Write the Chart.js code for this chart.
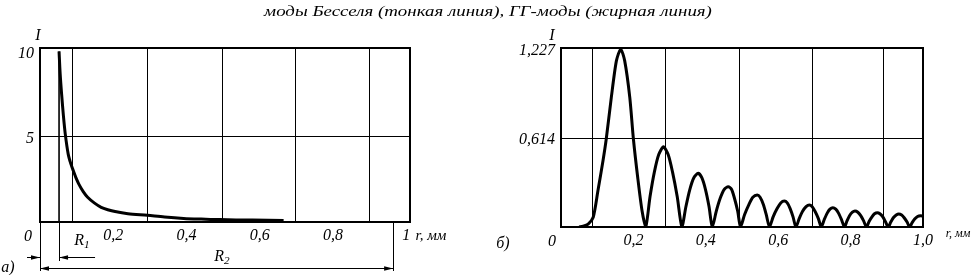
<!DOCTYPE html>
<html><head><meta charset="utf-8">
<script src="https://cdn.jsdelivr.net/npm/chart.js@4"></script>
<style>
body{margin:0;background:#fff}
#wrap{position:relative;width:976px;height:275px;overflow:hidden;background:#fff;font-family:'Liberation Serif','Times New Roman',serif;font-style:italic;color:#000}
canvas{position:absolute;top:0}
.t{position:absolute;white-space:nowrap;line-height:1;transform:translate(-50%,-50%)}
sub{font-size:70%;vertical-align:-3px}
</style></head><body>
<div id="wrap">
<canvas id="c1" width="480" height="275" style="left:0"></canvas>
<canvas id="c2" width="496" height="275" style="left:480px"></canvas>
<div class="t" style="left:488px;top:11px;font-size:15px;transform:translate(-50%,-50%) scaleX(1.26)">моды Бесселя (тонкая линия), ГГ-моды (жирная линия)</div>
<div class="t" style="left:38px;top:35px;font-size:16px">I</div>
<div class="t" style="left:552px;top:35px;font-size:16px">I</div>
<div class="t" style="left:28px;top:236px;font-size:16px">0</div>
<div class="t" style="left:552px;top:241px;font-size:16px">0</div>
<div class="t" style="left:431px;top:235px;font-size:15px">r, мм</div>
<div class="t" style="left:958px;top:233px;font-size:12px">r, мм</div>
<div class="t" style="left:82px;top:241px;font-size:16px">R<sub>1</sub></div>
<div class="t" style="left:222px;top:257px;font-size:16px">R<sub>2</sub></div>
<div class="t" style="left:8px;top:267px;font-size:16px">а)</div>
<div class="t" style="left:503px;top:243px;font-size:16px">б)</div>
</div>
<script>
// ---- data: left panel (a) ----
const rBesselA = [0.052, 0.052];
const vBesselA = [0, 10];
const rGGA = [0.052,0.055,0.059,0.064,0.069,0.077,0.084,0.091,0.098,0.106,0.118,0.130,0.148,0.167,0.185,0.205,0.24,0.293,0.34,0.392,0.44,0.49,0.58,0.665];
const vGGA = [10,8.7,7.5,6.2,5.15,3.98,3.42,3.0,2.6,2.22,1.78,1.45,1.12,0.86,0.72,0.61,0.49,0.39,0.29,0.21,0.17,0.14,0.11,0.09];
const gridA = [0.09,0.293,0.497,0.697,0.899];
const ticksA = [0.2,0.4,0.6,0.8,1];
const tickLabelsA = ['0,2','0,4','0,6','0,8','1'];
const yTicksA = [5,10];
const yLabelsA = ['5','10'];
const dimA = [0, 0.052, 0.964]; // 0, R1, R2

// ---- data: right panel (б) ----
const rB = [0.05,0.061,0.075,0.089,0.102,0.116,0.125,0.139,0.153,0.165,0.176,0.19,0.2,0.212,0.224,0.234,
 0.246,0.258,0.270,0.283,0.296,0.308,0.321,0.334,
 0.345,0.356,0.367,0.379,0.389,0.399,0.409,0.418,
 0.429,0.44,0.451,0.462,0.471,0.479,0.488,0.496,
 0.507,0.519,0.53,0.542,0.55,0.559,0.567,0.576,
 0.586,0.597,0.607,0.617,0.625,0.633,0.641,0.649,
 0.658,0.667,0.677,0.686,0.694,0.702,0.711,0.719,
 0.727,0.735,0.743,0.751,0.759,0.767,0.775,0.783,
 0.79,0.797,0.805,0.812,0.82,0.828,0.836,0.844,
 0.851,0.859,0.866,0.874,0.881,0.889,0.896,0.904,
 0.911,0.918,0.926,0.933,0.941,0.948,0.956,0.963,
 0.97,0.977,0.985,0.993,1.0];
const vB = [0,0.005,0.02,0.067,0.25,0.457,0.607,0.894,1.146,1.227,1.146,0.894,0.607,0.34,0.11,0,
 0.21,0.38,0.5,0.553,0.5,0.38,0.21,0,
 0.14,0.26,0.34,0.37,0.34,0.26,0.14,0,
 0.11,0.2,0.26,0.278,0.26,0.2,0.11,0,
 0.085,0.155,0.205,0.22,0.205,0.155,0.085,0,
 0.07,0.127,0.166,0.179,0.166,0.127,0.07,0,
 0.058,0.107,0.14,0.152,0.14,0.107,0.058,0,
 0.05,0.094,0.123,0.133,0.123,0.094,0.05,0,
 0.042,0.078,0.102,0.11,0.102,0.078,0.042,0,
 0.038,0.07,0.091,0.099,0.091,0.07,0.038,0,
 0.034,0.064,0.083,0.09,0.083,0.064,0.034,0,
 0.03,0.055,0.072,0.078,0.075];
const gridB = [0.088,0.29,0.492,0.694,0.892];
const ticksB = [0.2,0.4,0.6,0.8,1.0];
const tickLabelsB = ['0,2','0,4','0,6','0,8','1,0'];
const yTicksB = [0.614,1.227];
const yLabelsB = ['0,614','1,227'];

const FONT = {family:"'Liberation Serif','Times New Roman',serif", style:'italic', size:16};
const pts = (xs, ys) => xs.map((x,i)=>({x, y: ys[i]}));

const framePlugin = {
  id:'frame',
  afterDraw(chart){
    const {ctx, chartArea:a} = chart;
    ctx.save(); ctx.strokeStyle='#000'; ctx.lineWidth=2;
    ctx.strokeRect(a.left, a.top, a.right-a.left, a.bottom-a.top);
    ctx.restore();
  }
};

function arrow(ctx, x, y, dir){
  ctx.beginPath(); ctx.moveTo(x, y); ctx.lineTo(x - dir*9, y-2.2); ctx.lineTo(x - dir*9, y+2.2); ctx.closePath(); ctx.fill();
}
const dimPlugin = {
  id:'dims',
  afterDraw(chart){
    const ctx = chart.ctx, xs = chart.scales.x, b = chart.chartArea.bottom;
    const x0 = xs.getPixelForValue(dimA[0]), x1 = xs.getPixelForValue(dimA[1]), x2 = xs.getPixelForValue(dimA[2]);
    ctx.save(); ctx.strokeStyle='#000'; ctx.fillStyle='#000'; ctx.lineWidth=1;
    const v = (x, y2) => {ctx.beginPath(); ctx.moveTo(Math.round(x)+0.5, b); ctx.lineTo(Math.round(x)+0.5, y2); ctx.stroke();};
    v(x0, 271); v(x1, 261); v(x2, 271);
    const h = (xa, xb, y) => {ctx.beginPath(); ctx.moveTo(xa, y+0.5); ctx.lineTo(xb, y+0.5); ctx.stroke();};
    // R1
    h(x0-13, x0, 257); arrow(ctx, x0, 257.5, 1);
    h(x1, x1+36, 257); arrow(ctx, x1, 257.5, -1);
    // R2
    h(x0, x2, 268); arrow(ctx, x0, 268.5, -1); arrow(ctx, x2, 268.5, 1);
    ctx.restore();
  }
};

function makeChart(id, cfg){
  const gridSet = cfg.grid, lab = cfg.ticks, labels = cfg.labels;
  const topTick = cfg.yticks[cfg.yticks.length-1];
  return new Chart(document.getElementById(id), {
    type:'scatter',
    data:{datasets: cfg.datasets},
    options:{
      responsive:false, animation:false, devicePixelRatio:1,
      layout:{padding:{top:48, right:cfg.padRight, left:0, bottom:0}},
      plugins:{legend:{display:false}, tooltip:{enabled:false}},
      elements:{point:{radius:0}},
      scales:{
        x:{type:'linear', min:0, max:cfg.xmax,
          afterBuildTicks(s){ s.ticks = gridSet.concat(lab).sort((a,b)=>a-b).map(v=>({value:v})); },
          afterFit(s){ s.height = cfg.xh; },
          grid:{drawTicks:false, lineWidth:1, color:(c)=> (c.tick && gridSet.includes(c.tick.value)) ? '#000' : 'rgba(0,0,0,0)'},
          border:{display:false},
          ticks:{autoSkip:false, maxRotation:0, padding:4, color:'#000', font:FONT,
            callback:(val)=>{ const i = lab.indexOf(val); return i>=0 ? labels[i] : ''; }}
        },
        y:{type:'linear', min:0, max:cfg.ymax,
          afterBuildTicks(s){ s.ticks = cfg.yticks.map(v=>({value:v})); },
          afterFit(s){ s.width = cfg.yw; },
          grid:{drawTicks:false, lineWidth:1, color:(c)=> (c.tick && c.tick.value === topTick) ? 'rgba(0,0,0,0)' : '#000'},
          border:{display:false},
          ticks:{padding:6, labelOffset:2, color:'#000', font:FONT,
            callback:(val)=>{ const i = cfg.yticks.indexOf(val); return i>=0 ? cfg.ylabels[i] : ''; }}
        }
      }
    },
    plugins: cfg.plugins
  });
}

makeChart('c1', {
  grid: gridA, ticks: ticksA, labels: tickLabelsA, xmax:1.01, ymax:10.2, yticks:yTicksA, ylabels:yLabelsA,
  padRight:70, xh:53, yw:40, plugins:[framePlugin, dimPlugin],
  datasets:[
    {data:pts(rBesselA, vBesselA), showLine:true, borderColor:'#000', borderWidth:1.6, tension:0},
    {data:pts(rGGA, vGGA), showLine:true, borderColor:'#000', borderWidth:3, tension:0.3}
  ]
});
makeChart('c2', {
  grid: gridB, ticks: ticksB, labels: tickLabelsB, xmax:1.0, ymax:1.235, yticks:yTicksB, ylabels:yLabelsB,
  padRight:53, xh:48, yw:81, plugins:[framePlugin],
  datasets:[
    {data:pts(rB, vB), showLine:true, borderColor:'#000', borderWidth:3, tension:0.25}
  ]
});
</script>
</body></html>
